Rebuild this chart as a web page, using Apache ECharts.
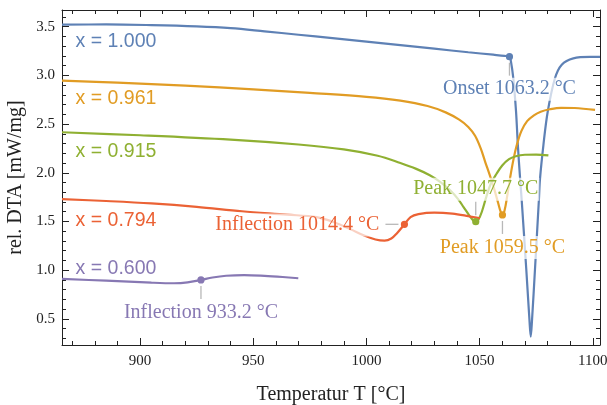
<!DOCTYPE html>
<html>
<head>
<meta charset="utf-8">
<script src="https://cdn.jsdelivr.net/npm/echarts@6/dist/echarts.min.js"></script>
<style>html,body{margin:0;padding:0;background:#fff}#c{width:607px;height:405px}</style>
</head>
<body>
<div id="c"></div>
<script>
// ---------- data ----------
const seriesNames = ['x = 1.000', 'x = 0.961', 'x = 0.915', 'x = 0.794', 'x = 0.600'];

const tBlue = [865.5, 885, 905, 925, 940, 955, 970, 985, 1000, 1015, 1030, 1045, 1056, 1061, 1063.2, 1063.8, 1064.9, 1066.1, 1066.9, 1067.9, 1068.6, 1070.6, 1072.0, 1072.6, 1073.2, 1074.5, 1076.2, 1076.7, 1078.2, 1080.1, 1083.3, 1086.3, 1091.4, 1098.8, 1103.2];
const vBlue = [3.52, 3.523, 3.516, 3.503, 3.485, 3.452, 3.417, 3.382, 3.347, 3.311, 3.274, 3.237, 3.212, 3.200, 3.19, 3.15, 2.97, 2.63, 2.285, 1.94, 1.72, 1.02, 0.50, 0.317, 0.50, 1.02, 1.72, 1.94, 2.285, 2.627, 2.97, 3.11, 3.175, 3.19, 3.19];

const tOrange = [865.5, 890, 920, 950, 975, 1000, 1015, 1027, 1035, 1041, 1045, 1048, 1050.5, 1052.5, 1054.5, 1056.5, 1058.2, 1059.3, 1060.1, 1061, 1062.2, 1063.5, 1065, 1066.5, 1068.5, 1071, 1074, 1077, 1081, 1086, 1092, 1101];
const vOrange = [2.945, 2.925, 2.895, 2.857, 2.82, 2.78, 2.74, 2.685, 2.62, 2.545, 2.47, 2.38, 2.25, 2.11, 1.975, 1.83, 1.69, 1.60, 1.567, 1.61, 1.76, 1.95, 2.14, 2.29, 2.43, 2.53, 2.59, 2.627, 2.652, 2.667, 2.665, 2.645];

const tGreen = [865.5, 900, 940, 970, 990, 1005, 1015, 1022, 1028, 1033, 1037, 1040.5, 1043, 1045.5, 1047.2, 1048.3, 1049.5, 1051, 1053, 1055, 1057.5, 1060, 1063, 1066, 1070, 1075, 1080.4];
const vGreen = [2.416, 2.385, 2.34, 2.29, 2.24, 2.175, 2.10, 2.04, 1.975, 1.90, 1.82, 1.73, 1.645, 1.56, 1.51, 1.498, 1.52, 1.60, 1.755, 1.89, 1.99, 2.075, 2.14, 2.17, 2.185, 2.187, 2.178];

const tRed = [865.5, 885, 905, 925, 945, 965, 978, 986, 993, 999, 1004, 1008, 1011, 1013.5, 1016.8, 1019.5, 1023, 1030, 1038, 1045, 1050.2];
const vRed = [1.73, 1.71, 1.685, 1.65, 1.605, 1.57, 1.545, 1.49, 1.42, 1.355, 1.315, 1.303, 1.325, 1.38, 1.471, 1.545, 1.575, 1.59, 1.58, 1.555, 1.533];

const tPurple = [865.5, 885, 905, 915, 921, 926.9, 932, 938, 946, 955, 963, 969.9];
const vPurple = [0.91, 0.892, 0.872, 0.866, 0.875, 0.90, 0.925, 0.943, 0.95, 0.942, 0.93, 0.917];

// callouts (marked points on the curves)
const calloutT = [1063.2, 1048.3, 1060.1, 1016.8, 926.9];
const calloutV = [3.192, 1.498, 1.567, 1.471, 0.900];
const calloutText = ['Onset 1063.2 °C', 'Peak 1047.7 °C', 'Peak 1059.5 °C', 'Inflection 1014.4 °C', 'Inflection 933.2 °C'];
const calloutCurve = [0, 2, 1, 3, 4];

// ---------- layout / style (not data) ----------
const colors = ['#5E81B5', '#E19C24', '#8FB032', '#EB6235', '#8778B3'];
const calloutSide = ['below', 'above', 'below', 'left', 'below'];
const nameAnchorT = [871.5, 871.5, 871.5, 871.5, 871.5];
const nameAnchorV = [3.343, 2.765, 2.217, 1.508, 1.019];

const xMin = 865.5, xMax = 1103.2, yMin = 0.232, yMax = 3.671;

const curves = [[tBlue, vBlue], [tOrange, vOrange], [tGreen, vGreen], [tRed, vRed], [tPurple, vPurple]];

const axisCol = '#222';
function xAxisCfg(pos, labels) {
  return {
    type: 'value', position: pos, min: xMin, max: xMax, splitNumber: 5,
    axisLine: { show: true, onZero: false, lineStyle: { color: axisCol, width: 1 } },
    axisTick: { show: true, inside: true, length: 7, lineStyle: { color: axisCol } },
    minorTick: { show: true, splitNumber: 5, length: 4, lineStyle: { color: axisCol } },
    splitLine: { show: false },
    axisLabel: labels ? {
      show: true, fontFamily: 'Liberation Serif', fontSize: 15, color: axisCol, margin: 9,
      formatter: v => (Math.abs(v / 50 - Math.round(v / 50)) < 1e-6 ? String(Math.round(v)) : '')
    } : { show: false },
    name: labels ? 'Temperatur T [°C]' : '',
    nameLocation: 'middle', nameGap: 40,
    nameTextStyle: { fontFamily: 'Liberation Serif', fontSize: 20, color: axisCol }
  };
}
function yAxisCfg(pos, labels) {
  return {
    type: 'value', position: pos, min: yMin, max: yMax, splitNumber: 5,
    axisLine: { show: true, onZero: false, lineStyle: { color: axisCol, width: 1 } },
    axisTick: { show: true, inside: true, length: 7, lineStyle: { color: axisCol } },
    minorTick: { show: true, splitNumber: 5, length: 4, lineStyle: { color: axisCol } },
    splitLine: { show: false },
    axisLabel: labels ? {
      show: true, fontFamily: 'Liberation Serif', fontSize: 15, color: axisCol, margin: 7,
      formatter: v => (Math.abs(v / 0.5 - Math.round(v / 0.5)) < 1e-6 ? v.toFixed(1) : '')
    } : { show: false },
    name: labels ? 'rel. DTA [mW/mg]' : '',
    nameLocation: 'middle', nameGap: 27,
    nameTextStyle: { fontFamily: 'Liberation Serif', fontSize: 20, color: axisCol }
  };
}

const lineSeries = curves.map((c, i) => ({
  type: 'line', name: seriesNames[i],
  data: c[0].map((t, k) => [t, c[1][k]]),
  xAxisIndex: 0, yAxisIndex: 0,
  showSymbol: false, symbol: 'none', smooth: 0.35,
  lineStyle: { color: colors[i], width: 2.2 },
  z: 2, silent: true
}));

const nameSeries = {
  type: 'custom', xAxisIndex: 0, yAxisIndex: 0, z: 3, silent: true,
  data: nameAnchorT.map((t, i) => [t, nameAnchorV[i]]),
  renderItem: function (params, api) {
    const i = params.dataIndex;
    const p = api.coord([api.value(0), api.value(1)]);
    return {
      type: 'text',
      style: {
        text: seriesNames[i], x: p[0], y: p[1], align: 'left', verticalAlign: 'middle',
        fill: colors[i], font: '19.5px "Liberation Sans"'
      }
    };
  }
};

const calloutSeries = {
  type: 'custom', xAxisIndex: 0, yAxisIndex: 0, z: 5, silent: true,
  data: calloutT.map((t, i) => [t, calloutV[i]]),
  renderItem: function (params, api) {
    const i = params.dataIndex;
    const p = api.coord([api.value(0), api.value(1)]);
    const col = colors[calloutCurve[i]];
    const side = calloutSide[i];
    let seg, tx, ty, align = 'center';
    if (side === 'below') {
      seg = { x1: p[0], y1: p[1] + 6, x2: p[0], y2: p[1] + 19 }; tx = p[0]; ty = p[1] + 32.5;
    } else if (side === 'above') {
      seg = { x1: p[0], y1: p[1] - 6.5, x2: p[0], y2: p[1] - 20 }; tx = p[0]; ty = p[1] - 32.5;
    } else {
      seg = { x1: p[0] - 6, y1: p[1], x2: p[0] - 19, y2: p[1] }; tx = p[0] - 24; ty = p[1] + 0.7; align = 'right';
    }
    return {
      type: 'group',
      children: [
        { type: 'text', z2: 1, style: {
            text: calloutText[i], x: tx, y: ty, align: align, verticalAlign: 'middle',
            fill: col, font: '20px "Liberation Serif"',
            backgroundColor: 'rgba(255,255,255,0.7)', padding: [2, 1, 1, 1]
          } },
        { type: 'line', z2: 2, shape: seg, style: { stroke: '#b8b8b8', lineWidth: 1.3 } },
        { type: 'circle', z2: 3, shape: { cx: p[0], cy: p[1], r: 3.6 }, style: { fill: col } }
      ]
    };
  }
};

const chart = echarts.init(document.getElementById('c'), null, { renderer: 'canvas' });
chart.setOption({
  animation: false,
  backgroundColor: '#fff',
  grid: { left: 62, right: 7, top: 10, bottom: 60, containLabel: false, outerBoundsMode: 'none' },
  xAxis: [xAxisCfg('bottom', true), xAxisCfg('top', false)],
  yAxis: [yAxisCfg('left', true), yAxisCfg('right', false)],
  series: lineSeries.concat([nameSeries, calloutSeries])
});
</script>
</body>
</html>
